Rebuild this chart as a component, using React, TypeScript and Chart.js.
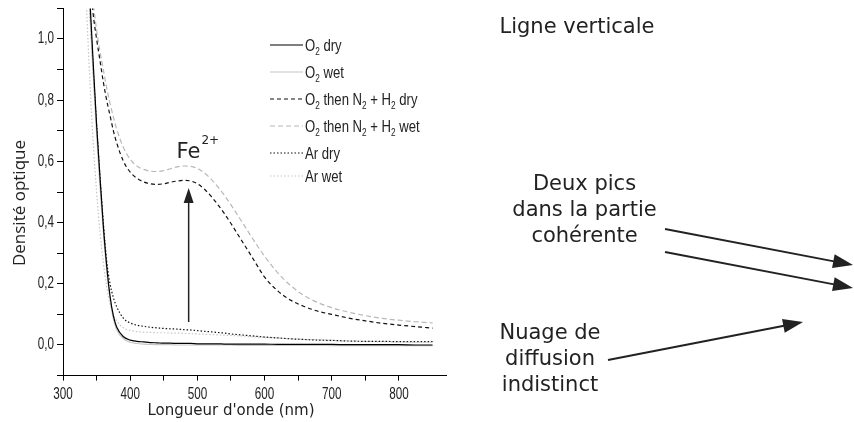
import React, { useEffect, useRef } from "react";
import { Chart, registerables } from "chart.js";

Chart.register(...registerables);

// ---- data ----
const wavelengths = [330, 335, 340, 345, 350, 355, 360, 365, 370, 375, 380, 390, 400, 410, 420, 430, 440, 450, 460, 470, 480, 490, 500, 510, 520, 530, 540, 550, 560, 570, 580, 590, 600, 620, 640, 660, 680, 700, 725, 750, 775, 800, 825, 850];

const o2Dry = [1.6, 1.35, 1.13, 0.92, 0.72, 0.55, 0.39, 0.26, 0.16, 0.095, 0.058, 0.027, 0.016, 0.012, 0.01, 0.008, 0.007, 0.006, 0.006, 0.005, 0.005, 0.005, 0.004, 0.004, 0.004, 0.004, 0.003, 0.003, 0.003, 0.003, 0.003, 0.003, 0.003, 0.002, 0.002, 0.002, 0.002, 0.002, 0.001, 0.001, 0.001, 0.001, 0.0, 0.0];

const o2Wet = [1.55, 1.3, 1.08, 0.88, 0.69, 0.52, 0.37, 0.245, 0.15, 0.085, 0.05, 0.02, 0.009, 0.005, 0.003, 0.002, 0.001, 0.001, 0.001, 0.0, 0.0, 0.0, 0.0, 0.0, 0.0, 0.0, 0.0, 0.0, -0.001, -0.001, -0.001, -0.001, -0.001, -0.001, -0.001, -0.001, -0.001, -0.002, -0.002, -0.002, -0.002, -0.002, -0.002, -0.002];

const n2h2Dry = [1.45, 1.32, 1.2, 1.08, 1.0, 0.93, 0.86, 0.8, 0.75, 0.7, 0.66, 0.6, 0.565, 0.545, 0.533, 0.527, 0.525, 0.527, 0.532, 0.536, 0.538, 0.536, 0.527, 0.51, 0.487, 0.46, 0.43, 0.397, 0.362, 0.327, 0.292, 0.256, 0.222, 0.176, 0.145, 0.125, 0.11, 0.1, 0.088, 0.079, 0.071, 0.065, 0.06, 0.055];

const n2h2Wet = [1.5, 1.38, 1.25, 1.12, 1.03, 0.96, 0.9, 0.84, 0.79, 0.745, 0.705, 0.645, 0.607, 0.585, 0.574, 0.568, 0.567, 0.57, 0.576, 0.582, 0.585, 0.584, 0.577, 0.563, 0.543, 0.518, 0.49, 0.458, 0.424, 0.39, 0.355, 0.322, 0.29, 0.235, 0.192, 0.16, 0.138, 0.122, 0.107, 0.096, 0.087, 0.081, 0.076, 0.072];

const arDry = [1.6, 1.33, 1.1, 0.9, 0.72, 0.55, 0.4, 0.275, 0.2, 0.155, 0.125, 0.087, 0.072, 0.065, 0.061, 0.058, 0.056, 0.054, 0.053, 0.052, 0.05, 0.049, 0.047, 0.045, 0.043, 0.041, 0.039, 0.036, 0.034, 0.032, 0.03, 0.028, 0.026, 0.023, 0.02, 0.018, 0.016, 0.015, 0.013, 0.012, 0.012, 0.011, 0.011, 0.011];

const arWet = [1.3, 1.1, 0.86, 0.66, 0.5, 0.37, 0.27, 0.19, 0.135, 0.1, 0.078, 0.056, 0.048, 0.044, 0.042, 0.041, 0.04, 0.04, 0.039, 0.039, 0.038, 0.037, 0.036, 0.035, 0.034, 0.033, 0.032, 0.031, 0.03, 0.029, 0.027, 0.026, 0.025, 0.023, 0.02, 0.018, 0.017, 0.015, 0.013, 0.012, 0.011, 0.01, 0.009, 0.009];

const seriesLabels = ["O_2 dry", "O_2 wet", "O_2 then N_2 + H_2 dry", "O_2 then N_2 + H_2 wet", "Ar dry", "Ar wet"];
const seriesValues = [o2Dry, o2Wet, n2h2Dry, n2h2Wet, arDry, arWet];

const xTickLabels = [300, 400, 500, 600, 700, 800];
const yTickLabels = [0.0, 0.2, 0.4, 0.6, 0.8, 1.0];

const xTitle = "Longueur d'onde (nm)";
const yTitle = "Densité optique";
const feText = ["Fe", "2+"];
const fePosition = [469, 0.611]; // nm, optical density
const feArrow = [487, 0.075, 0.513]; // nm, from, to

const noteLigne = ["Ligne verticale"];
const noteDeux = ["Deux pics", "dans la partie", "cohérente"];
const noteNuage = ["Nuage de", "diffusion", "indistinct"];

// ---- styles ----
const colors = ["#000000", "#c6c6c6", "#111111", "#b8b8b8", "#111111", "#c6c6c6"];
const dashes: number[][] = [[], [], [4, 3], [5, 3], [1.5, 2], [1.5, 2]];
const TEXT = "#222222";
const sans = "'Liberation Sans', Arial, sans-serif";

function drawArrow(ctx: CanvasRenderingContext2D, x0: number, y0: number, x1: number, y1: number, lw: number, len: number, half: number) {
  const a = Math.atan2(y1 - y0, x1 - x0);
  const bx = x1 - Math.cos(a) * len;
  const by = y1 - Math.sin(a) * len;
  ctx.save();
  ctx.strokeStyle = TEXT;
  ctx.fillStyle = TEXT;
  ctx.lineWidth = lw;
  ctx.setLineDash([]);
  ctx.beginPath();
  ctx.moveTo(x0, y0);
  ctx.lineTo(bx + Math.cos(a) * 2, by + Math.sin(a) * 2);
  ctx.stroke();
  ctx.beginPath();
  ctx.moveTo(x1, y1);
  ctx.lineTo(bx + Math.sin(a) * half, by - Math.cos(a) * half);
  ctx.lineTo(bx - Math.sin(a) * half, by + Math.cos(a) * half);
  ctx.closePath();
  ctx.fill();
  ctx.restore();
}

// condensed text: horizontally squeezed sans
function narrowText(ctx: CanvasRenderingContext2D, text: string, x: number, y: number, size: number, align: CanvasTextAlign, baseline: CanvasTextBaseline, squeeze = 0.73) {
  ctx.save();
  ctx.font = `${size}px ${sans}`;
  ctx.textAlign = align;
  ctx.textBaseline = baseline;
  ctx.translate(x, y);
  ctx.scale(squeeze, 1);
  ctx.fillText(text, 0, 0);
  const w = ctx.measureText(text).width * squeeze;
  ctx.restore();
  return w;
}

function drawRich(ctx: CanvasRenderingContext2D, text: string, x: number, baseline: number) {
  const parts = text.split(/_(\d)/);
  let cx = x;
  parts.forEach((p, i) => {
    if (i % 2 === 1) {
      cx += narrowText(ctx, p, cx, baseline + 4, 10, "left", "alphabetic", 0.82);
    } else {
      cx += narrowText(ctx, p, cx, baseline, 16, "left", "alphabetic", 0.82);
    }
  });
}

const overlay = {
  id: "overlay",
  afterDraw(chart: any) {
    const ctx: CanvasRenderingContext2D = chart.ctx;
    const xs = chart.scales.x;
    const ys = chart.scales.y;
    ctx.save();
    ctx.fillStyle = TEXT;

    // tick labels
    xTickLabels.forEach((v) => narrowText(ctx, String(v), xs.getPixelForValue(v), 395, 16, "center", "middle"));
    yTickLabels.forEach((v) => narrowText(ctx, v.toFixed(1).replace(".", ","), 54, ys.getPixelForValue(v), 16, "right", "middle"));

    // axis titles
    ctx.font = "15px 'DejaVu Sans'";
    ctx.textAlign = "center";
    ctx.textBaseline = "middle";
    ctx.fillText(xTitle, 231, 411);
    ctx.save();
    ctx.translate(20, 203);
    ctx.rotate(-Math.PI / 2);
    ctx.font = "17px 'Open Sans'";
    ctx.fillText(yTitle, 0, 0);
    ctx.restore();

    // legend
    let rowY = 45;
    chart.data.datasets.forEach((ds: any, i: number) => {
      if (i > 0) rowY += seriesLabels[i - 1].includes("_") ? 27 : 23;
      ctx.save();
      ctx.strokeStyle = ds.borderColor;
      ctx.lineWidth = 1.2;
      ctx.setLineDash(ds.borderDash || []);
      ctx.beginPath();
      ctx.moveTo(270, rowY);
      ctx.lineTo(303, rowY);
      ctx.stroke();
      ctx.restore();
      ctx.fillStyle = TEXT;
      drawRich(ctx, ds.label, 305, rowY + 5.5);
    });

    // Fe2+ annotation
    const fx = xs.getPixelForValue(fePosition[0]);
    const fy = ys.getPixelForValue(fePosition[1]);
    ctx.textAlign = "left";
    ctx.textBaseline = "alphabetic";
    ctx.font = "21px 'DejaVu Sans'";
    ctx.fillText(feText[0], fx, fy);
    const w = ctx.measureText(feText[0]).width;
    ctx.font = "12px 'DejaVu Sans'";
    ctx.fillText(feText[1], fx + w + 1, fy - 14);
    const ax = xs.getPixelForValue(feArrow[0]);
    drawArrow(ctx, ax, ys.getPixelForValue(feArrow[1]), ax, ys.getPixelForValue(feArrow[2]), 1.5, 15, 5);

    // side notes
    ctx.font = "21px 'DejaVu Sans'";
    ctx.textAlign = "center";
    ctx.textBaseline = "middle";
    noteLigne.forEach((t, i) => ctx.fillText(t, 577, 28 + i * 26));
    noteDeux.forEach((t, i) => ctx.fillText(t, 584.5, 185 + i * 26));
    noteNuage.forEach((t, i) => ctx.fillText(t, 550, 334 + i * 26));
    drawArrow(ctx, 665, 229, 853, 265, 2, 20, 7);
    drawArrow(ctx, 665, 252, 853, 288, 2, 20, 7);
    drawArrow(ctx, 608, 360, 803, 322, 2, 20, 7);

    ctx.restore();
  },
};

export default function App() {
  const ref = useRef<HTMLCanvasElement>(null);
  useEffect(() => {
    const canvas = ref.current!;
    const chart = new Chart(canvas, {
      type: "line",
      data: {
        datasets: seriesValues.map((vals, i) => ({
          label: seriesLabels[i],
          data: wavelengths.map((x, j) => ({ x, y: vals[j] })),
          borderColor: colors[i],
          borderDash: dashes[i],
          borderWidth: 1.2,
          pointRadius: 0,
          fill: false,
          cubicInterpolationMode: "monotone" as const,
        })),
      },
      options: {
        animation: false,
        responsive: false,
        devicePixelRatio: 1,
        layout: { padding: { left: 0, top: 8.4, right: 408, bottom: 0 } },
        plugins: { legend: { display: false }, tooltip: { enabled: false } },
        scales: {
          x: {
            type: "linear",
            min: 300,
            max: 870,
            afterBuildTicks: (s: any) => {
              s.ticks = s.ticks.filter((t: any) => t.value % 50 === 0 && t.value <= 850);
            },
            afterFit: (s: any) => {
              s.height = 46.4;
            },
            ticks: { stepSize: 50, autoSkip: false, maxRotation: 0, display: false },
            grid: { drawOnChartArea: false, drawTicks: true, tickLength: 5, tickColor: "#000", color: "#000" },
            border: { display: true, color: "#000", width: 1 },
          },
          y: {
            type: "linear",
            min: -0.1,
            max: 1.1,
            afterFit: (s: any) => {
              s.width = 63;
            },
            ticks: { stepSize: 0.1, autoSkip: false, display: false },
            grid: { drawOnChartArea: false, drawTicks: true, tickLength: 6, tickColor: "#000", color: "#000" },
            border: { display: true, color: "#000", width: 1 },
          },
        },
      },
      plugins: [overlay],
    });
    return () => chart.destroy();
  }, []);
  return (
    <div style={{ position: "fixed", left: 0, top: 0, width: 854, height: 422, background: "#fff" }}>
      <canvas ref={ref} width={854} height={422} style={{ width: 854, height: 422, display: "block" }} />
    </div>
  );
}
